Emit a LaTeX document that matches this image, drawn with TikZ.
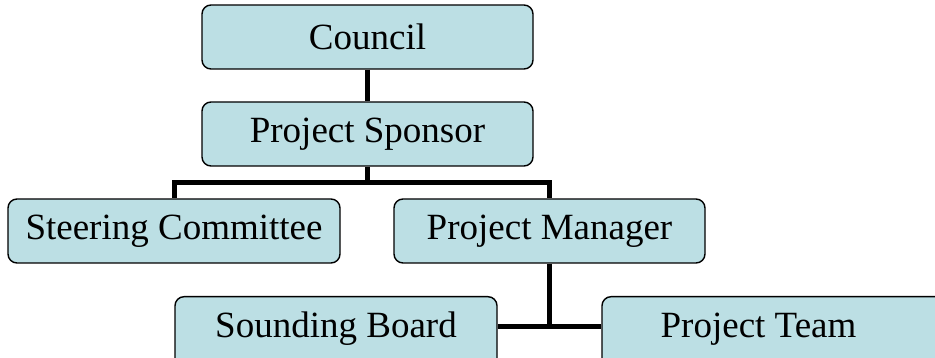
\documentclass[tikz,border=0pt]{standalone}
\usepackage{fontspec}
\setmainfont{Liberation Serif}
\definecolor{boxblue}{RGB}{188,223,228}

\begin{document}
\begin{tikzpicture}
  [x=1pt,y=-1pt,
   every node/.style={draw, line width=1.4pt, rounded corners=9pt, fill=boxblue,
     minimum height=64pt, inner sep=0pt, font=\fontsize{37}{40}\selectfont}]
  \useasboundingbox (0,0) rectangle (935,358);
  \node[minimum width=331pt] (council)  at (367.5,37)  {Council};
  \node[minimum width=331pt] (sponsor)  at (367.5,134) {Project Sponsor};
  \node[minimum width=332pt] (steering) at (174,231)   {Steering Committee};
  \node[minimum width=311pt] (manager)  at (549.5,231) {Project Manager};
  % bottom row runs off the page
  \node[minimum width=322pt,minimum height=74pt,anchor=north,text height=27pt,text depth=19pt]
    (sounding) at (336,296) {Sounding Board};
  \node[minimum width=343pt,minimum height=74pt,anchor=north,text height=27pt,text depth=19pt]
    (team) at (773.5,296) {Project Team\hspace*{30pt}};
  \coordinate (bar) at (367.5,183);
  \coordinate (fork) at (549.5,326);

\path[draw,line width=5pt]
    (council) -- (sponsor)
    (sponsor) -- (bar)
    (bar) -| (steering)
    (bar) -| (manager)
    (manager) -- (fork)
    (fork) -- (fork -| sounding.east)
    (fork) -- (fork -| team.west)
;
\end{tikzpicture}
\end{document}
